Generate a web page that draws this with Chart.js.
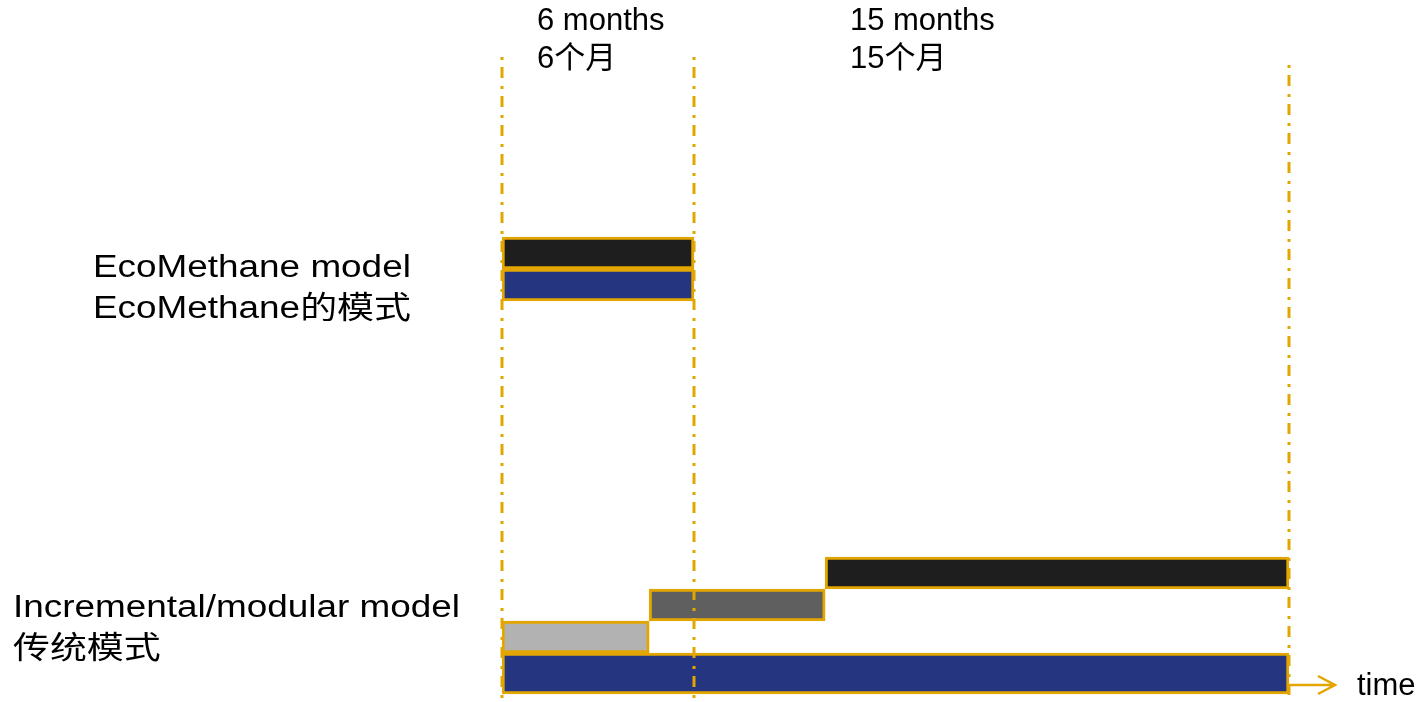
<!DOCTYPE html>
<html>
<head>
<meta charset="utf-8">
<script src="https://cdn.jsdelivr.net/npm/chart.js@4.4.1/dist/chart.umd.min.js"></script>
<style>
  html, body { margin: 0; padding: 0; background: #fff; }
  #wrap { width: 1420px; height: 702px; position: relative; }
</style>
</head>
<body>
<div id="wrap"><canvas id="chart1"></canvas></div>
<script>
// #DATA (time in months, schematic: 1 month = width of the 6-month block / 6)
const models = [
  ["EcoMethane model", "EcoMethane的模式"],
  ["Incremental/modular model", "传统模式"]
];
const periods = [
  ["6 months", "6个月"],
  ["15 months", "15个月"]
];
const milestones = [0, 6, 24.6];
const barStart = [0, 0, 10.1, 4.6, 0, 0];
const barEnd = [6, 6, 24.6, 10.1, 4.6, 24.6];
const barLane = [0, 1, 10, 11, 12, 13.14];

// #STYLE
const GOLD = "#e3a600";
const barFill = ["#1e1e1e", "#263580", "#1e1e1e", "#5f5f5f", "#b2b2b2", "#263580"];
const barSize = [32, 32, 32, 32, 32, 41];
const FONT = '31px "Liberation Sans", Arial, "Noto Sans CJK SC", sans-serif';

const datasets = barStart.map(function (s, i) {
  return {
    data: [{ x: [s, barEnd[i]], y: barLane[i] }],
    backgroundColor: barFill[i],
    borderColor: GOLD,
    borderWidth: 3,
    borderSkipped: false,
    barThickness: barSize[i],
    grouped: false,
  };
});

// guides, arrow and texts
const overlay = {
  id: "overlay",
  afterDatasetsDraw(chart) {
    const c = chart.ctx;
    const xs = chart.scales.x;
    const a = chart.chartArea;
    c.save();

    c.strokeStyle = GOLD;
    c.lineWidth = 3;
    c.setLineDash([3, 7, 11, 8]);
    milestones.forEach(function (m, i) {
      const px = Math.round(xs.getPixelForValue(m));
      const top = i === milestones.length - 1 ? a.top + 8 : a.top;
      c.beginPath();
      c.moveTo(px, top);
      c.lineTo(px, a.bottom + 5);
      c.stroke();
    });

    // time arrow
    const xEnd = Math.round(xs.getPixelForValue(milestones[milestones.length - 1]));
    const ay = a.bottom - 10;
    c.setLineDash([]);
    c.lineWidth = 2.5;
    c.beginPath();
    c.moveTo(xEnd, ay);
    c.lineTo(xEnd + 46, ay);
    c.moveTo(xEnd + 29, ay - 9);
    c.lineTo(xEnd + 46, ay);
    c.lineTo(xEnd + 29, ay + 9);
    c.stroke();

    c.fillStyle = "#000";
    c.font = FONT;
    c.textBaseline = "alphabetic";
    c.textAlign = "left";
    c.fillText("time", xEnd + 68, a.bottom);

    // period labels
    const periodOffset = [35, 156];
    periods.forEach(function (p, i) {
      const px = xs.getPixelForValue(milestones[i]) + periodOffset[i];
      c.fillText(p[0], px, 30);
      c.fillText(p[1], px, 68);
    });

    // model labels (stretched horizontally like the original)
    const modelX = [93, 13];
    const modelY = [277, 617];
    models.forEach(function (m, i) {
      c.save();
      c.translate(modelX[i], 0);
      c.scale(1.19, 1);
      c.fillText(m[0], 0, modelY[i]);
      c.fillText(m[1], 0, modelY[i] + 41);
      c.restore();
    });

    c.restore();
  },
};

// #CHART
const ctx = document.getElementById("chart1");
new Chart(ctx, {
  type: "bar",
  data: { datasets: datasets },
  options: {
    indexAxis: "y",
    responsive: true,
    maintainAspectRatio: false,
    animation: false,
    layout: { padding: { left: 502, right: 131, top: 57, bottom: 7 } },
    scales: {
      x: { type: "linear", min: 0, max: 24.6, display: false, offset: false },
      y: { type: "linear", reverse: true, min: -6.125, max: 13.8125, display: false, offset: false },
    },
    plugins: {
      legend: { display: false },
      tooltip: { enabled: false },
    },
  },
  plugins: [overlay],
});
</script>
</body>
</html>
